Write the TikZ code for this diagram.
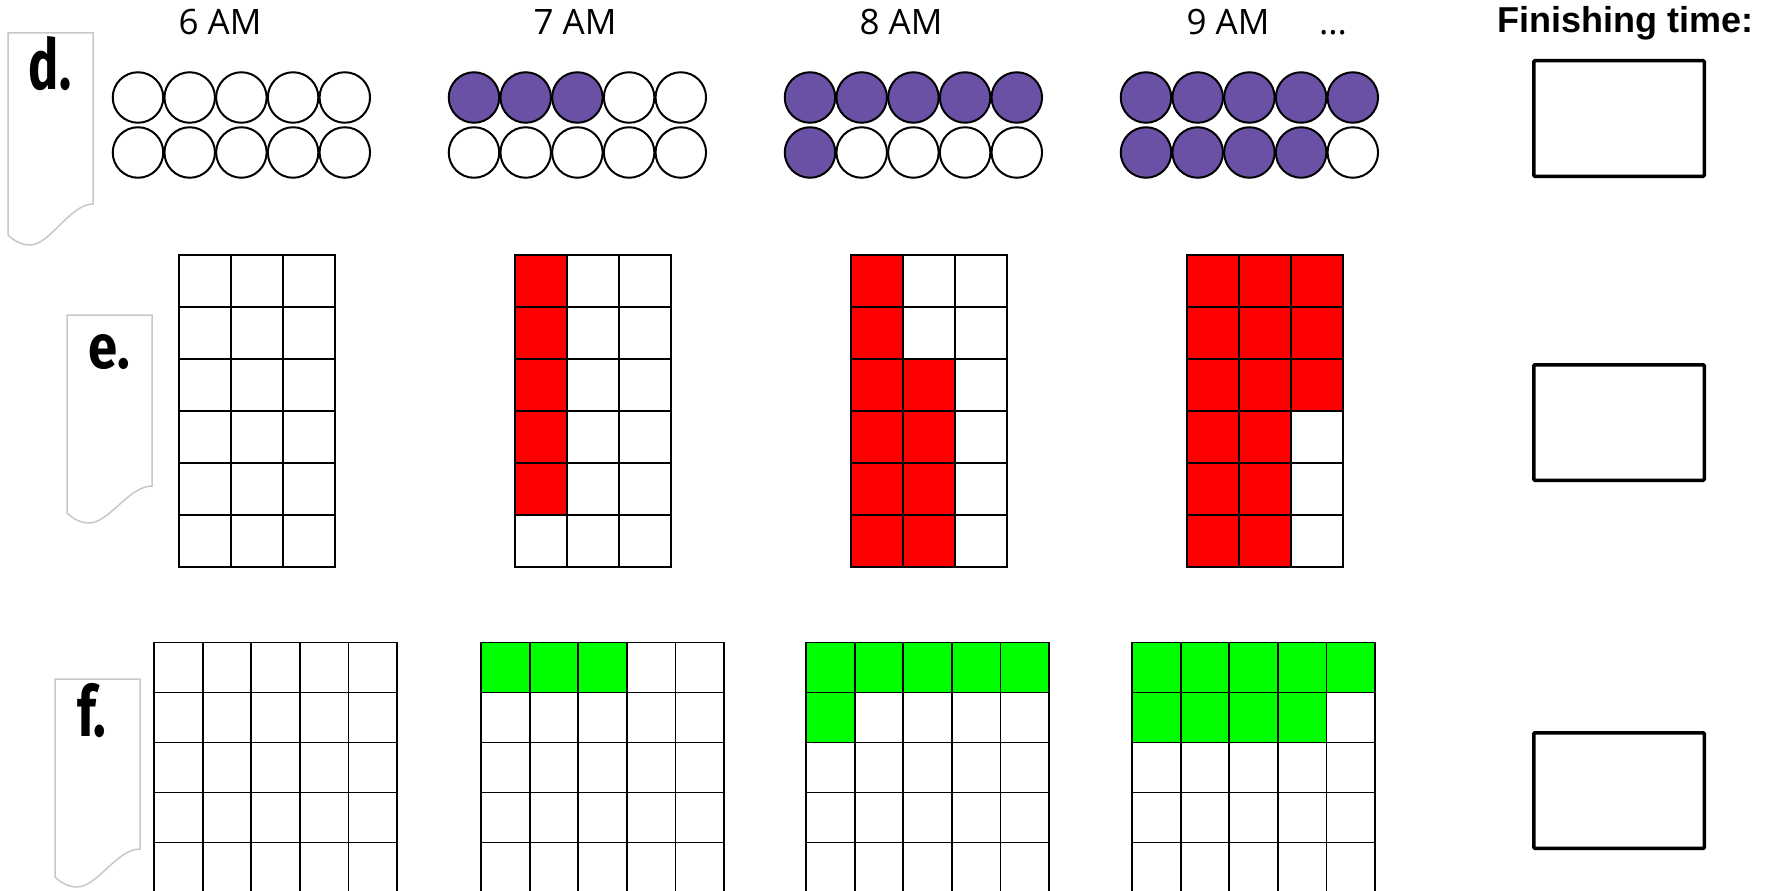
\documentclass[tikz,border=0pt]{standalone}
\usepackage{fontspec}
\newfontfamily\timefont{Open Sans}
\newfontfamily\headfont{Liberation Sans}
\newfontfamily\tabfont{Fira Sans}
\usetikzlibrary{positioning}
\definecolor{beadfill}{HTML}{6A51A5}
\definecolor{tabgray}{HTML}{C8C8C8}
\definecolor{cellred}{HTML}{FF0000}
\definecolor{cellgreen}{HTML}{00FF00}
% side tab: left, top, right, right bottom, left bottom
\newcommand{\labeltab}[5]{%
  \draw[tabline] (#1,#2) -- (#3,#2) -- (#3,#4)
    .. controls (#3-23,#4) and (#1+42,#5+10) .. (#1+22,#5+10)
    .. controls (#1+12,#5+10) and (#1+4,#5+4) .. (#1,#5) -- cycle;}

\begin{document}
\begin{tikzpicture}[x=1pt, y=-1pt,
  bead/.style={circle, draw, line width=2pt, minimum size=50.5pt, inner sep=0pt},
  gridline/.style={line width=1.8pt, line cap=rect},
  tabline/.style={draw=tabgray, line width=1.5pt, fill=white},
  tablabel/.style={font=\tabfont\bfseries\fontsize{70}{74}\selectfont, anchor=base, inner sep=0pt},
  timelabel/.style={font=\timefont\fontsize{35}{42}\selectfont, anchor=base, inner sep=0pt},
  answerbox/.style={draw, line width=3.5pt, rounded corners=1pt,
    minimum width=170.5pt, minimum height=115.5pt, inner sep=0pt}]
  \clip (0,0) rectangle (1773,891);
  \fill[white] (0,0) rectangle (1773,891);

  % Time labels
  \node[timelabel] (t6) at (220,35) {6 AM};
  \node[timelabel] (t7) at (575,35) {7 AM};
  \node[timelabel] (t8) at (901,35) {8 AM};
  \node[timelabel] (t9) at (1228,35) {9 AM};
  \node[timelabel] (tdots) at (1333,35) {...};
  \node[font=\headfont\bfseries\fontsize{36}{42}\selectfont, anchor=base, inner sep=0pt]
    (finish) at (1625,33) {Finishing time:};

  % Side tabs
  \labeltab{8}{33}{93}{204}{235}
  \labeltab{67}{315}{152}{486}{513}
  \labeltab{55}{679}{140}{849}{877}
  \node[tablabel] (lbld) at (50,89) {\scalebox{0.72}[1]{d.}};
  \node[tablabel, font=\tabfont\fontsize{62}{66}\selectfont\bfseries] (lble) at (109,368) {\scalebox{0.85}[1]{e.}};
  \node[tablabel] (lblf) at (92,736) {\scalebox{0.75}[1]{f.}};

  % Beads (row d)
  \foreach \gx/\nt/\nb in {138/0/0, 474/3/0, 810/5/1, 1146/5/4}
    \foreach \i in {0,...,4} {
      \ifnum\i<\nt \def\topfill{beadfill}\else\def\topfill{white}\fi
      \ifnum\i<\nb \def\botfill{beadfill}\else\def\botfill{white}\fi
      \node[bead, fill=\topfill] (top\gx-\i) at (\gx+\i*51.7,97.5) {};
      \node[bead, fill=\botfill] (bot\gx-\i) at (\gx+\i*51.7,152.5) {};
    }

  % Red grids (row e)
  \fill[cellred] (515,255) rectangle (567,515);
  \fill[cellred] (851,255) rectangle (903,567);
  \fill[cellred] (903,359) rectangle (955,567);
  \fill[cellred] (1187,255) rectangle (1343,411);
  \fill[cellred] (1187,411) rectangle (1291,567);
  \foreach \gx in {179,515,851,1187} {
    \foreach \i in {0,...,3} \draw[gridline] (\gx+\i*52,255) -- (\gx+\i*52,567);
    \foreach \j in {0,...,6} \draw[gridline] (\gx,255+\j*52) -- (\gx+156,255+\j*52);
  }

  % Green grids (row f)
  \fill[cellgreen] (481,642.5) rectangle (626.8,692.5);
  \fill[cellgreen] (806,642.5) rectangle (1049,692.5);
  \fill[cellgreen] (806,692.5) rectangle (854.6,742.5);
  \fill[cellgreen] (1132,642.5) rectangle (1375,692.5);
  \fill[cellgreen] (1132,692.5) rectangle (1326.4,742.5);
  \foreach \gx in {154,481,806,1132} {
    \foreach \i in {0,...,5} \draw[gridline] (\gx+\i*48.6,642.5) -- (\gx+\i*48.6,942.5);
    \foreach \j in {0,...,5} \draw[gridline] (\gx,642.5+\j*50) -- (\gx+243,642.5+\j*50);
  }

  % Answer boxes
  \node[answerbox] (ansd) at (1619,118.5) {};
  \node[answerbox] (anse) at (1619,422.5) {};
  \node[answerbox] (ansf) at (1619,790.5) {};
\end{tikzpicture}
\end{document}
